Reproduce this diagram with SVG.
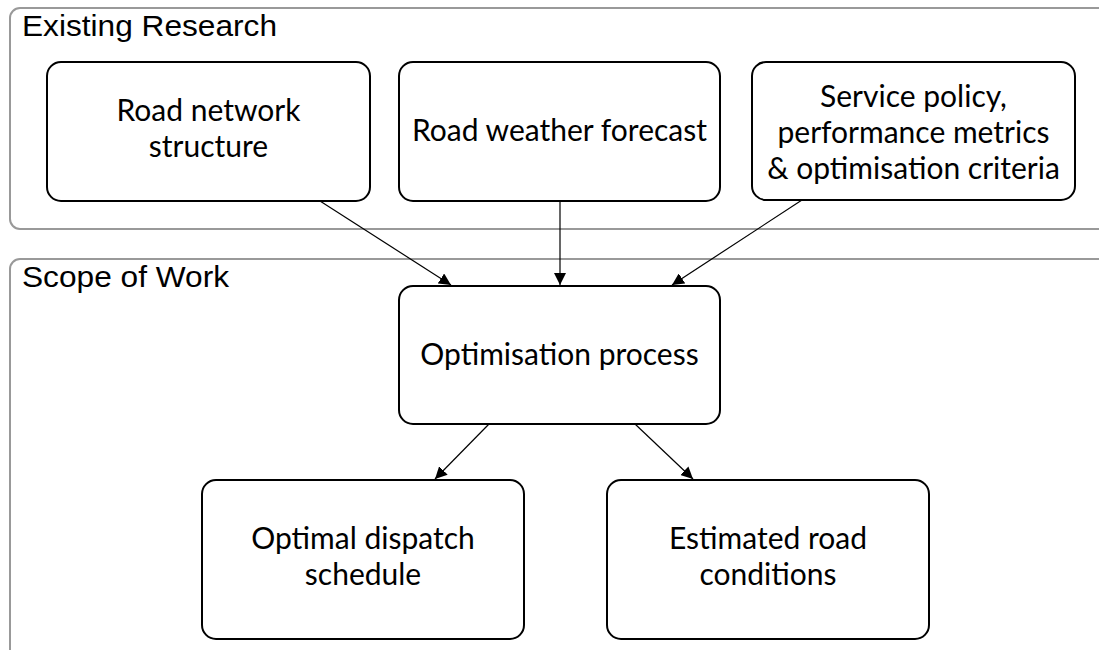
<svg xmlns="http://www.w3.org/2000/svg" width="1099" height="650" viewBox="0 0 1099 650">
<defs>
<style>
.container{fill:none;stroke:#999;stroke-width:2}
.node{fill:#fff;stroke:#000;stroke-width:2}
.clabel{font-family:"Liberation Sans",Arial,sans-serif;font-size:30px;fill:#000}
.ntext{font-family:Lato,"Open Sans",sans-serif;font-size:30px;fill:#000;text-anchor:middle}
.edge{stroke:#000;stroke-width:1.2;fill:none}
</style>
<marker id="arr" viewBox="0 0 10 10" refX="10" refY="5" markerWidth="12" markerHeight="12" markerUnits="userSpaceOnUse" orient="auto">
<path d="M0,0 L10,5 L0,10 z" fill="#000"/>
</marker>
</defs>
<g id="existing-research">
<rect class="container" x="10" y="8" width="1110" height="221" rx="10"/>
<text class="clabel" x="22" y="36" textLength="255" lengthAdjust="spacingAndGlyphs">Existing Research</text>
</g>
<g id="scope-of-work">
<rect class="container" x="10" y="259" width="1110" height="410" rx="10"/>
<text class="clabel" x="22" y="287" textLength="207" lengthAdjust="spacingAndGlyphs">Scope of Work</text>
</g>
<g id="road-network">
<rect class="node" x="47" y="62" width="323" height="139" rx="14"/>
<text class="ntext" x="208.5" y="121">Road network</text>
<text class="ntext" x="208.5" y="157">structure</text>
</g>
<g id="road-weather">
<rect class="node" x="399" y="62" width="321" height="139" rx="14"/>
<text class="ntext" x="559.5" y="141">Road weather forecast</text>
</g>
<g id="service-policy">
<rect class="node" x="752" y="62" width="323" height="138" rx="14"/>
<text class="ntext" x="913.5" y="107">Service policy,</text>
<text class="ntext" x="913.5" y="143">performance metrics</text>
<text class="ntext" x="913.5" y="179">&amp; optimisation criteria</text>
</g>
<g id="optimisation">
<rect class="node" x="399" y="286" width="321" height="138" rx="14"/>
<text class="ntext" x="559.5" y="365">Optimisation process</text>
</g>
<g id="dispatch">
<rect class="node" x="202" y="480" width="322" height="159" rx="14"/>
<text class="ntext" x="363" y="549">Optimal dispatch</text>
<text class="ntext" x="363" y="585">schedule</text>
</g>
<g id="conditions">
<rect class="node" x="607" y="480" width="322" height="159" rx="14"/>
<text class="ntext" x="768" y="549">Estimated road</text>
<text class="ntext" x="768" y="585">conditions</text>
</g>
<g id="connectors">
<line class="edge" x1="320" y1="201" x2="451" y2="285" marker-end="url(#arr)"/>
<line class="edge" x1="560" y1="201" x2="560" y2="285" marker-end="url(#arr)"/>
<line class="edge" x1="802" y1="200" x2="672" y2="285" marker-end="url(#arr)"/>
<line class="edge" x1="489" y1="424" x2="435" y2="479" marker-end="url(#arr)"/>
<line class="edge" x1="635" y1="424" x2="693" y2="479" marker-end="url(#arr)"/>
</g>
</svg>
